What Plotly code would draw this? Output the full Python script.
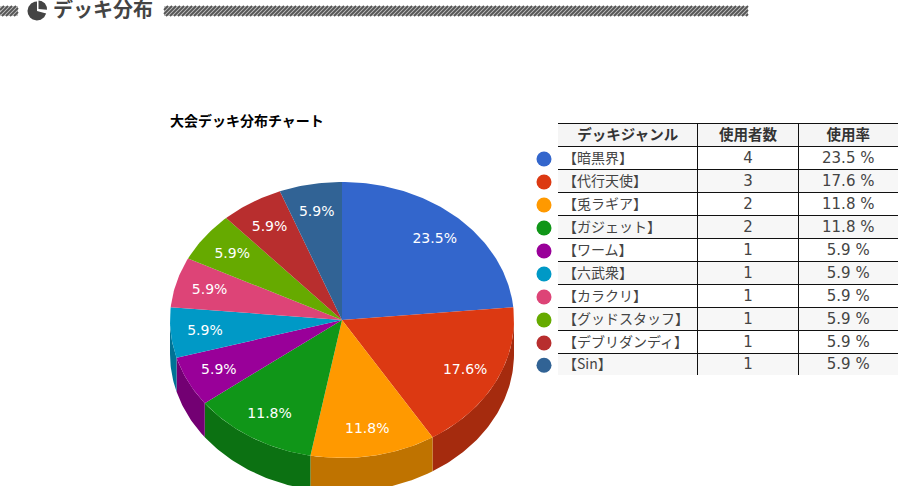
# -*- coding: utf-8 -*-
import numpy as np
import plotly.graph_objs as go

decks = ["【暗黒界】", "【代行天使】", "【兎ラギア】", "【ガジェット】", "【ワーム】",
         "【六武衆】", "【カラクリ】", "【グッドスタッフ】", "【デブリダンディ】", "【Sin】"]
counts = [4, 3, 2, 2, 1, 1, 1, 1, 1, 1]
rates = [23.5, 17.6, 11.8, 11.8, 5.9, 5.9, 5.9, 5.9, 5.9, 5.9]
colors = ["#3366cc", "#dc3912", "#ff9900", "#109618", "#990099",
          "#0099c6", "#dd4477", "#66aa00", "#b82e2e", "#316395"]
side_colors = ["#264d99", "#a52b0e", "#bf7300", "#0c7112", "#730073",
               "#007395", "#a63359", "#4d8000", "#8a2323", "#254a70"]
headers = ["デッキジャンル", "使用者数", "使用率"]

title_text = "デッキ分布"
chart_title = "大会デッキ分布チャート"

JP = "Noto Sans CJK JP"
LATIN = "DejaVu Sans"

cx, cy, rx, ry, depth = 342, 320, 172, 138, 34
col_x = [558, 697.5, 798.5, 898]
row_y = [123.5, 146.5] + [169.5 + 23 * i for i in range(9)] + [375]


def arc(a0, a1, x=cx, y=cy, w=rx, h=ry):
    # angles in degrees, clockwise from 12 o'clock
    t = np.radians(np.linspace(a0, a1, max(int(abs(a1 - a0)) + 2, 2)))
    return x + w * np.sin(t), y - h * np.cos(t)


def filled(xs, ys, color):
    return go.Scatter(x=list(xs), y=list(ys), mode="lines", fill="toself", fillcolor=color,
                      line=dict(width=0), hoverinfo="skip", showlegend=False)


def text(xs, ys, labels, size, color, pos="middle center", font=JP, bold=False):
    return go.Scatter(x=xs, y=ys, text=labels, mode="text", textposition=pos, hoverinfo="skip",
                      showlegend=False, cliponaxis=False,
                      textfont=dict(size=size, color=color, family=font,
                                    weight="bold" if bold else "normal"))


def hatch(x0, x1, top=6, bottom=16, step=4):
    xs, ys = [], []
    for x in np.arange(x0 - 10, x1, step):
        a, b = max(x, x0), min(x + 10, x1)
        xs += [a, b, None]
        ys += [bottom - (a - x), bottom - (b - x), None]
    return go.Scatter(x=xs, y=ys, mode="lines", line=dict(color="#555555", width=1.8),
                      hoverinfo="skip", showlegend=False)


data = []

# header band
for x0, x1 in [(0, 18), (164, 748)]:
    data.append(filled([x0, x1, x1, x0], [6, 6, 16, 16], "#c4c4c4"))
    data.append(hatch(x0, x1))

# header pie icon
ix, iy = arc(105, 360, 37, 11, 9.5, 9.5)
data.append(filled(list(ix) + [37], list(iy) + [11], "#444444"))
ix, iy = arc(0, 95, 38.5, 9, 8.5, 8.5)
data.append(filled(list(ix) + [38.5], list(iy) + [9], "#444444"))
data.append(text([53], [12], [title_text], 20, "#444444", "middle right", bold=True))
data.append(text([170], [122], [chart_title], 14, "#000000", "middle right", bold=True))

# pie, angles come from the counts
edges = np.cumsum([0] + counts) / sum(counts) * 360

# side wall: only the front half of the ellipse shows
for i in range(len(counts)):
    a0, a1 = max(edges[i], 90), min(edges[i + 1], 270)
    if a1 <= a0:
        continue
    xs, ys = arc(a0, a1)
    data.append(filled(list(xs) + list(xs[::-1]), list(ys) + list(ys[::-1] + depth), side_colors[i]))

for i in range(len(counts)):
    xs, ys = arc(edges[i], edges[i + 1])
    data.append(filled([cx] + list(xs) + [cx], [cy] + list(ys) + [cy], colors[i]))

mids = np.radians((edges[:-1] + edges[1:]) / 2)
data.append(text(list(cx + 0.8 * rx * np.sin(mids)), list(cy - 0.8 * ry * np.cos(mids) + 1),
                 ["%.1f%%" % r for r in rates], 14, "#ffffff", font=LATIN))

# table
centers = [(row_y[i] + row_y[i + 1]) / 2 + 1 for i in range(11)]
data.append(filled([col_x[0], col_x[3], col_x[3], col_x[0]], [row_y[0], row_y[0], row_y[1], row_y[1]], "#f5f5f5"))
for i in range(1, 10, 2):
    data.append(filled([col_x[0], col_x[3], col_x[3], col_x[0]],
                       [row_y[i + 1], row_y[i + 1], row_y[i + 2], row_y[i + 2]], "#f7f7f7"))

lx, ly = [], []
for y in row_y[:-1]:
    lx += [col_x[0], col_x[3], None]
    ly += [y, y, None]
for x in col_x[1:3]:
    lx += [x, x, None]
    ly += [row_y[0], row_y[-1], None]
data.append(go.Scatter(x=lx, y=ly, mode="lines", line=dict(color="#111111", width=1),
                       hoverinfo="skip", showlegend=False))

data.append(text([(col_x[0] + col_x[1]) / 2, (col_x[1] + col_x[2]) / 2, (col_x[2] + col_x[3]) / 2],
                 [centers[0]] * 3, headers, 14.5, "#333333", bold=True))
data.append(text([563] * 10, centers[1:], decks, 14, "#444444", "middle right"))
data.append(text([(col_x[1] + col_x[2]) / 2] * 10, centers[1:], [str(c) for c in counts],
                 15, "#444444", font=LATIN))
data.append(text([(col_x[2] + col_x[3]) / 2] * 10, centers[1:], ["%.1f %%" % r for r in rates],
                 15, "#444444", font=LATIN))
data.append(go.Scatter(x=[544] * 10, y=centers[1:], mode="markers", hoverinfo="skip", showlegend=False,
                       marker=dict(size=15, color=colors, line=dict(width=0))))

layout = go.Layout(width=898, height=486, margin=dict(l=0, r=0, t=0, b=0),
                   paper_bgcolor="#ffffff", plot_bgcolor="#ffffff", showlegend=False,
                   xaxis=dict(range=[0, 898], visible=False, fixedrange=True),
                   yaxis=dict(range=[486, 0], visible=False, fixedrange=True))
fig = go.Figure(data=data, layout=layout)
fig.write_html("out.html", config=dict(displayModeBar=False),
               post_script="document.body.style.margin='0';document.body.style.overflow='hidden';")
